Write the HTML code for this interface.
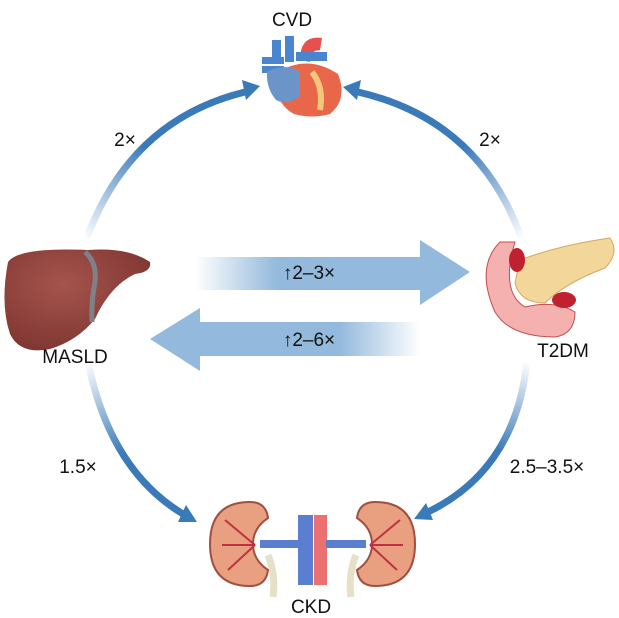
<!DOCTYPE html>
<html><head><meta charset="utf-8"><style>
html,body{margin:0;padding:0;background:#fff;}
svg{display:block;}
text{font-family:"Liberation Sans",Arial,sans-serif;fill:#111;}
</style></head><body>
<svg width="619" height="618" viewBox="0 0 619 618" xmlns="http://www.w3.org/2000/svg">
<defs>
<linearGradient id="gTL" gradientUnits="userSpaceOnUse" x1="85" y1="240" x2="150" y2="150"><stop offset="0" stop-color="#3a7ab8" stop-opacity="0"/><stop offset="1" stop-color="#3a7ab8"/></linearGradient>
<linearGradient id="gTR" gradientUnits="userSpaceOnUse" x1="522" y1="240" x2="460" y2="150"><stop offset="0" stop-color="#3a7ab8" stop-opacity="0"/><stop offset="1" stop-color="#3a7ab8"/></linearGradient>
<linearGradient id="gBL" gradientUnits="userSpaceOnUse" x1="88" y1="362" x2="130" y2="450"><stop offset="0" stop-color="#3a7ab8" stop-opacity="0"/><stop offset="1" stop-color="#3a7ab8"/></linearGradient>
<linearGradient id="gBR" gradientUnits="userSpaceOnUse" x1="527" y1="362" x2="495" y2="450"><stop offset="0" stop-color="#3a7ab8" stop-opacity="0"/><stop offset="1" stop-color="#3a7ab8"/></linearGradient>
<linearGradient id="gA1" x1="0" y1="0" x2="1" y2="0"><stop offset="0" stop-color="#93b9dc" stop-opacity="0"/><stop offset="0.3" stop-color="#93b9dc"/><stop offset="1" stop-color="#93b9dc"/></linearGradient>
<linearGradient id="gA2" x1="1" y1="0" x2="0" y2="0"><stop offset="0" stop-color="#93b9dc" stop-opacity="0"/><stop offset="0.3" stop-color="#93b9dc"/><stop offset="1" stop-color="#93b9dc"/></linearGradient>
<radialGradient id="gLiv" cx="0.4" cy="0.35" r="0.7"><stop offset="0" stop-color="#a5544c"/><stop offset="1" stop-color="#7e3531"/></radialGradient>
</defs>

<path d="M86,240 Q130,120 245,92" fill="none" stroke="url(#gTL)" stroke-width="7"/>
<polygon points="260,86 242,80 246,100" fill="#3a7ab8"/>
<path d="M522,240 Q480,120 358,92" fill="none" stroke="url(#gTR)" stroke-width="7"/>
<polygon points="343,87 361,80 357,100" fill="#3a7ab8"/>
<path d="M88,362 Q110,470 183,514" fill="none" stroke="url(#gBL)" stroke-width="7"/>
<polygon points="197,522 186,505 178,522" fill="#3a7ab8"/>
<path d="M527,362 Q515,470 428,512" fill="none" stroke="url(#gBR)" stroke-width="7"/>
<polygon points="414,519 426,503 433,520" fill="#3a7ab8"/>

<polygon points="195,257 420,257 420,240 470,272 420,305 420,290 195,290" fill="url(#gA1)"/>
<polygon points="420,322 200,322 200,308 150,339 200,371 200,356 420,356" fill="url(#gA2)"/>
<text x="309" y="279" font-size="19" text-anchor="middle">↑2–3×</text>
<text x="309" y="346" font-size="19" text-anchor="middle">↑2–6×</text>

<!-- heart -->
<g>
<path d="M300,60 q0,-25 22,-22 l-2,12 q-10,0 -10,12z" fill="#e85050"/>
<path d="M272,62 v-22 h9 v22z M285,62 v-26 h9 v26z" fill="#4a86d0"/>
<path d="M296,52 h31 v9 h-31z" fill="#4a86d0"/>
<path d="M262,57 h22 v7 h-22z M262,66 h22 v7 h-22z" fill="#4a86d0"/>
<path d="M278,72 q30,-18 60,2 q10,25 -8,40 q-18,5 -36,0 q-22,-12 -16,-42z" fill="#e8674a"/>
<path d="M267,72 q18,-10 33,0 v24 q-12,10 -24,4 q-10,-12 -9,-28z" fill="#6b94c8"/>
<path d="M312,72 q12,15 8,38" stroke="#f2c77a" stroke-width="6" fill="none"/>
</g>

<!-- liver -->
<path d="M8,262 q10,-15 80,-12 q40,-3 62,12 q2,10 -15,12 q-25,12 -40,45 q-18,22 -45,30 q-30,6 -40,-15 q-10,-30 -2,-72z" fill="url(#gLiv)"/>
<path d="M85,252 q12,10 10,30 q-4,20 -3,40" stroke="#808088" stroke-width="5" fill="none"/>

<!-- pancreas -->
<path d="M500,242 q-25,25 -5,70 q15,25 60,25 q20,-3 20,-25 q-20,-12 -50,-5 q-25,-15 -10,-65z" fill="#f5b0b0" stroke="#c05050" stroke-width="1"/>
<path d="M520,260 q40,-15 90,-22 q10,15 -5,30 q-40,15 -60,35 q-25,0 -30,-20z" fill="#f2d69a" stroke="#d4a860" stroke-width="1"/>
<ellipse cx="517" cy="260" rx="8" ry="12" fill="#c02030"/>
<ellipse cx="564" cy="300" rx="12" ry="8" fill="#c02030"/>

<!-- kidneys -->
<path d="M268,555 q8,20 5,42 M356,555 q-8,20 -5,42" stroke="#e6e0c8" stroke-width="7" fill="none"/>
<path d="M298,515 h15 v70 h-15z" fill="#5b7fd0"/>
<path d="M314,515 h13 v70 h-13z" fill="#ec7070"/>
<path d="M260,540 h40 v8 h-40z" fill="#5b7fd0"/>
<path d="M326,540 h40 v8 h-40z" fill="#5b7fd0"/>
<path d="M250,502 q-40,0 -40,42 q0,42 40,42 q16,0 18,-16 q-15,-10 -15,-26 q0,-16 15,-26 q-2,-16 -18,-16z" fill="#e8a080" stroke="#a05040" stroke-width="2"/>
<path d="M375,502 q40,0 40,42 q0,42 -40,42 q-16,0 -18,-16 q15,-10 15,-26 q0,-16 -15,-26 q2,-16 18,-16z" fill="#e8a080" stroke="#a05040" stroke-width="2"/>
<path d="M225,520 l30,25 M222,545 l33,0 M228,570 l27,-25 M400,520 l-30,25 M403,545 l-33,0 M397,570 l-27,-25" stroke="#c03040" stroke-width="2" fill="none"/>

<text x="292" y="26" font-size="19" text-anchor="middle">CVD</text>
<text x="125" y="146" font-size="19" text-anchor="middle">2×</text>
<text x="490" y="146" font-size="19" text-anchor="middle">2×</text>
<text x="75" y="363" font-size="19" text-anchor="middle">MASLD</text>
<text x="563" y="357" font-size="19" text-anchor="middle">T2DM</text>
<text x="78" y="473" font-size="19" text-anchor="middle">1.5×</text>
<text x="547" y="473" font-size="19" text-anchor="middle">2.5–3.5×</text>
<text x="311" y="613" font-size="19" text-anchor="middle">CKD</text>
</svg>
</body></html>
